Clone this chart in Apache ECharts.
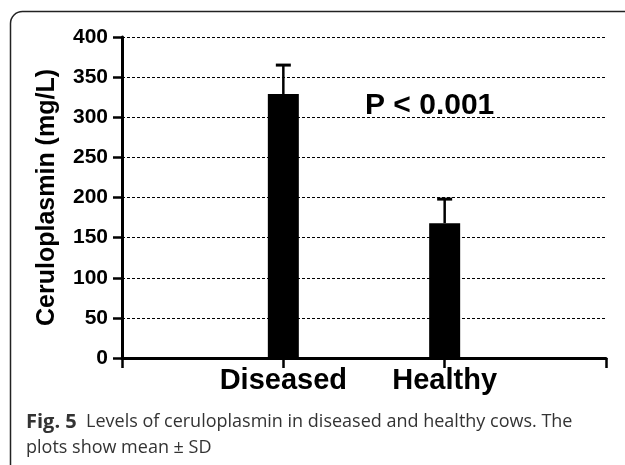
<!DOCTYPE html>
<html>
<head>
<meta charset="utf-8">
<script src="https://cdn.jsdelivr.net/npm/echarts@6/dist/echarts.min.js"></script>
<style>
  html, body { margin: 0; padding: 0; background: #fff; }
  #chart { width: 625px; height: 465px; }
</style>
</head>
<body>
<div id="chart"></div>
<script>
// groups and values (mean, SD)
var categories = ['Diseased', 'Healthy'];
var means = [329, 168];
var sds = [36, 30];
var yTicks = [0, 50, 100, 150, 200, 250, 300, 350, 400];

// padding slots either side so the bars sit at 1/3 and 2/3 of the axis
var axisCats = [''].concat(categories).concat(['']);
var barData = ['-'].concat(means).concat(['-']);
var errData = categories.map(function (c, i) {
  return [i + 1, means[i], means[i] + sds[i]];
});

var chart = echarts.init(document.getElementById('chart'));

chart.setOption({
  backgroundColor: '#fff',
  animation: false,
  grid: {
    left: 122,
    top: 37,
    right: 19,
    bottom: 107
  },
  xAxis: {
    type: 'category',
    data: axisCats,
    boundaryGap: false,
    axisLine: { lineStyle: { color: '#000', width: 3 } },
    axisTick: { show: true, interval: 0, length: 10, lineStyle: { color: '#000', width: 2.5 } },
    axisLabel: {
      interval: 0,
      hideOverlap: false,
      color: '#000',
      fontFamily: 'Liberation Sans, Arial, sans-serif',
      fontWeight: 'bold',
      fontSize: 29,
      margin: 8
    },
    splitLine: { show: false }
  },
  yAxis: {
    type: 'value',
    min: yTicks[0],
    max: yTicks[yTicks.length - 1],
    interval: 50,
    name: 'Ceruloplasmin (mg/L)',
    nameLocation: 'middle',
    nameGap: 62,
    nameTextStyle: {
      color: '#000',
      fontFamily: 'Liberation Sans, Arial, sans-serif',
      fontWeight: 'bold',
      fontSize: 25
    },
    axisLine: { show: true, lineStyle: { color: '#000', width: 3 } },
    axisTick: { show: true, length: 9, lineStyle: { color: '#000', width: 2.5 } },
    axisLabel: {
      color: '#000',
      fontFamily: 'Liberation Sans, Arial, sans-serif',
      fontWeight: 'bold',
      fontSize: 21,
      margin: 14
    },
    splitLine: {
      show: true,
      lineStyle: { color: '#000', width: 1, type: [3, 2] }
    }
  },
  series: [{
    type: 'bar',
    data: barData,
    barWidth: 31,
    itemStyle: { color: '#000' },
    z: 3
  }, {
    type: 'custom',
    data: errData,
    z: 4,
    renderItem: function (params, api) {
      var lo = api.coord([api.value(0), api.value(1)]);
      var hi = api.coord([api.value(0), api.value(2)]);
      var half = 7.5;
      return {
        type: 'group',
        children: [{
          type: 'line',
          shape: { x1: lo[0], y1: lo[1], x2: hi[0], y2: hi[1] },
          style: { stroke: '#000', lineWidth: 2.5 }
        }, {
          type: 'line',
          shape: { x1: hi[0] - half, y1: hi[1], x2: hi[0] + half, y2: hi[1] },
          style: { stroke: '#000', lineWidth: 3 }
        }]
      };
    }
  }],
  graphic: [{
    // figure frame, open to the right and bottom
    type: 'rect',
    z: -1,
    shape: { x: 10.5, y: 11.5, width: 900, height: 900, r: 12 },
    style: { fill: null, stroke: '#222', lineWidth: 1.5 }
  }, {
    type: 'text',
    left: 365,
    top: 91,
    style: {
      text: 'P < 0.001',
      fill: '#000',
      font: 'bold 30px "Liberation Sans", Arial, sans-serif'
    }
  }, {
    type: 'text',
    left: 26,
    top: 409,
    style: {
      text: '{b|Fig. 5}  Levels of ceruloplasmin in diseased and healthy cows. The\nplots show mean ± SD',
      fill: '#333',
      font: '18px "Open Sans", sans-serif',
      lineHeight: 26,
      rich: {
        b: {
          fill: '#333',
          font: 'bold 20px "Open Sans", sans-serif',
          lineHeight: 26
        }
      }
    }
  }]
});
</script>
</body>
</html>
